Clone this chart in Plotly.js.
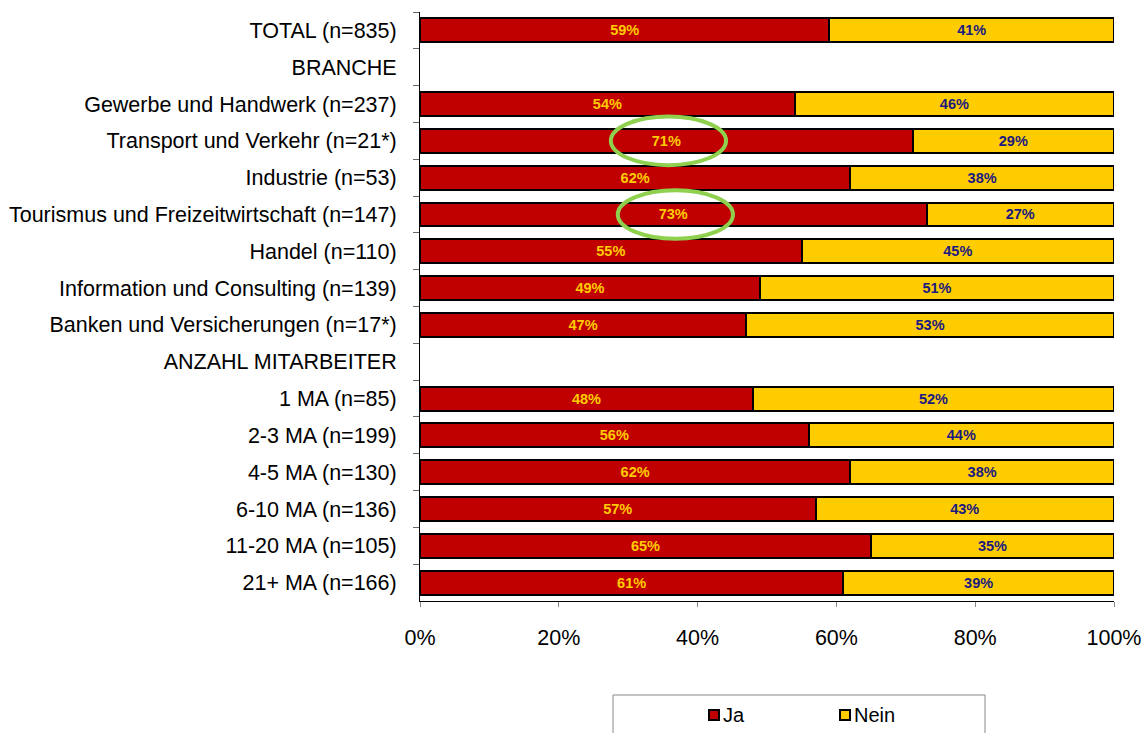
<!DOCTYPE html>
<html>
<head>
<meta charset="utf-8">
<script src="https://cdn.plot.ly/plotly-3.0.1.min.js"></script>
<style>html,body{margin:0;padding:0;background:#fff;}#chart{width:1145px;height:733px;}</style>
</head>
<body>
<div id="chart"></div>
<script>
var categories = [
  "TOTAL (n=835)",
  "BRANCHE",
  "Gewerbe und Handwerk (n=237)",
  "Transport und Verkehr (n=21*)",
  "Industrie (n=53)",
  "Tourismus und Freizeitwirtschaft (n=147)",
  "Handel (n=110)",
  "Information und Consulting (n=139)",
  "Banken und Versicherungen (n=17*)",
  "ANZAHL MITARBEITER",
  "1 MA (n=85)",
  "2-3 MA (n=199)",
  "4-5 MA (n=130)",
  "6-10 MA (n=136)",
  "11-20 MA (n=105)",
  "21+ MA (n=166)"
];
var ja   = [59, null, 54, 71, 62, 73, 55, 49, 47, null, 48, 56, 62, 57, 65, 61];
var nein = [41, null, 46, 29, 38, 27, 45, 51, 53, null, 52, 44, 38, 43, 35, 39];
var xTickVals = [0, 20, 40, 60, 80, 100];
var xTickText = ["0%", "20%", "40%", "60%", "80%", "100%"];
var seriesNames = ["Ja", "Nein"];
var seriesColors = ["#C00000", "#FFCC00"];
var highlighted = ["Transport und Verkehr (n=21*)", "Tourismus und Freizeitwirtschaft (n=147)"];

var FONT = "Liberation Sans, Arial, sans-serif";

// pixel helpers for plot geometry (plot area: x 420..1114, y 12..601)
var L = 420, R = 1114, T = 12, B = 601;
function px(x){ return (x - L) / (R - L); }
function py(y){ return (B - y) / (B - T); }

var traces = [
  {
    type: "bar", orientation: "h", name: seriesNames[0],
    y: categories, x: ja,
    marker: {color: seriesColors[0], line: {color: "#000000", width: 2}},
    width: 0.65,
    text: ja.map(function(v){ return v === null ? "" : v + "%"; }),
    textposition: "inside", insidetextanchor: "middle", textangle: 0,
    textfont: {family: FONT, size: 14.5, color: "#FFCC00", weight: "bold"},
    constraintext: "none",
    hoverinfo: "none", showlegend: false
  },
  {
    type: "bar", orientation: "h", name: seriesNames[1],
    y: categories, x: nein,
    marker: {color: seriesColors[1], line: {color: "#000000", width: 2}},
    width: 0.65,
    text: nein.map(function(v){ return v === null ? "" : v + "%"; }),
    textposition: "inside", insidetextanchor: "middle", textangle: 0,
    textfont: {family: FONT, size: 14.5, color: "#1A1A80", weight: "bold"},
    constraintext: "none",
    hoverinfo: "none", showlegend: false
  }
];

// ellipses around highlighted labels
var shapes = [];
highlighted.forEach(function(cat){
  var idx = categories.indexOf(cat);
  var v = ja[idx];
  var cx = v / 2 + 0.3;
  shapes.push({
    type: "circle", xref: "x", yref: "y",
    x0: cx - 8.3, x1: cx + 8.3,
    y0: idx - 0.66, y1: idx + 0.66,
    line: {color: "#8FD14F", width: 4},
    fillcolor: "rgba(0,0,0,0)", layer: "above"
  });
});
// legend box
shapes.push({
  type: "rect", xref: "paper", yref: "paper",
  x0: px(613), x1: px(985), y0: py(745), y1: py(695),
  line: {color: "#888888", width: 1}, fillcolor: "rgba(0,0,0,0)"
});
var annotations = [];
var legendX = [714, 845];
seriesNames.forEach(function(name, i){
  var cx = legendX[i], cy = 715;
  shapes.push({
    type: "rect", xref: "paper", yref: "paper",
    x0: px(cx - 5), x1: px(cx + 5), y0: py(cy + 5), y1: py(cy - 5),
    line: {color: "#000000", width: 2}, fillcolor: seriesColors[i]
  });
  annotations.push({
    xref: "paper", yref: "paper", x: px(cx + 7), y: py(cy),
    xanchor: "left", yanchor: "middle", showarrow: false,
    text: name, font: {family: FONT, size: 20, color: "#000000"}
  });
});

var layout = {
  width: 1145, height: 733,
  margin: {l: L, r: 1145 - R, t: T, b: 733 - B, autoexpand: false},
  barmode: "stack",
  showlegend: false,
  paper_bgcolor: "#ffffff", plot_bgcolor: "#ffffff",
  font: {family: FONT, size: 21, color: "#000000"},
  xaxis: {
    range: [0, 100], tickvals: xTickVals, ticktext: xTickText,
    showgrid: false, zeroline: false,
    showline: true, linecolor: "#000000", linewidth: 1,
    ticks: "outside", ticklen: 5, tickcolor: "#888888", tickwidth: 1,
    tickfont: {family: FONT, size: 21.5, color: "#000000"},
    ticklabelstandoff: 12, fixedrange: true
  },
  yaxis: {
    type: "category", categoryorder: "array", categoryarray: categories,
    range: [15.5, -0.5],
    showgrid: false, zeroline: false,
    showline: true, linecolor: "#000000", linewidth: 1,
    ticks: "outside", ticklen: 6, tickcolor: "#666666", tickwidth: 1,
    tickson: "boundaries",
    tickfont: {family: FONT, size: 21.5, color: "#000000"},
    ticklabelstandoff: 18, fixedrange: true
  },
  shapes: shapes,
  annotations: annotations
};

Plotly.newPlot("chart", traces, layout, {displayModeBar: false, staticPlot: true});
</script>
</body>
</html>
